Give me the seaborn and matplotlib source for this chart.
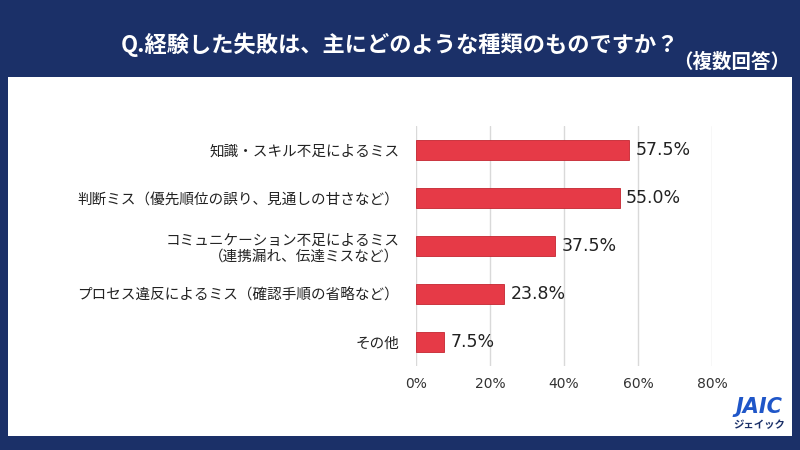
import matplotlib
matplotlib.use("Agg")
import matplotlib.pyplot as plt
import seaborn as sns
import pandas as pd
from matplotlib.patches import Rectangle

# Données
categories = [
    "知識・スキル不足によるミス",
    "判断ミス（優先順位の誤り、見通しの甘さなど）",
    "コミュニケーション不足によるミス\n（連携漏れ、伝達ミスなど）",
    "プロセス違反によるミス（確認手順の省略など）",
    "その他",
]
values = [57.5, 55.0, 37.5, 23.8, 7.5]
x_ticks = [0, 20, 40, 60, 80]
x_tick_labels = ["0%", "20%", "40%", "60%", "80%"]

title = "Q.経験した失敗は、主にどのような種類のものですか？"
subtitle = "（複数回答）"

navy = "#1b3068"
red = "#e63a47"

sns.set_theme(style="white")
plt.rcParams["font.family"] = ["Noto Sans CJK JP", "DejaVu Sans"]

df = pd.DataFrame({"cat": categories, "val": values})

fig = plt.figure(figsize=(8, 4.5), dpi=100)
fig.patch.set_facecolor(navy)

# Panneau blanc
fig.patches.append(Rectangle((8 / 800, 1 - 436 / 450), 784 / 800, 359 / 450,
                             transform=fig.transFigure, facecolor="white",
                             edgecolor="none", zorder=-1))

ax = fig.add_axes([416 / 800, 1 - 366 / 450, 296 / 800, 240 / 450])
ax.set_zorder(2)
ax.set_facecolor("none")
sns.barplot(data=df, x="val", y="cat", ax=ax, color=red, saturation=1,
            width=0.42, edgecolor="#c42530", linewidth=0.6, zorder=3)

ax.set_xlim(0, 80)
ax.set_ylim(4.5, -0.5)
ax.set_xticks(x_ticks)
ax.set_xticklabels(x_tick_labels, fontsize=10, color="#333333",
                   family="DejaVu Sans")
ax.tick_params(axis="x", length=0, pad=8)
ax.tick_params(axis="y", length=0, pad=12)
for lab in ax.get_yticklabels():
    lab.set_fontsize(10.5)
    lab.set_color("#222222")
    lab.set_ha("right")
ax.set_xlabel("")
ax.set_ylabel("")
ax.grid(axis="x", color="#d9d9d9", linewidth=1, zorder=0)
for s in ax.spines.values():
    s.set_visible(False)

# Étiquettes de valeurs
for i, v in enumerate(values):
    ax.text(v + 1.8, i, f"{v:.1f}%", va="center", ha="left", fontsize=12.5,
            color="#222222", family="DejaVu Sans")

# Titre
fig.text(0.5, 1 - 45 / 450, title, ha="center", va="center", color="white",
         fontsize=16, fontweight="bold")
fig.text(790 / 800, 1 - 62 / 450, subtitle, ha="right", va="center",
         color="white", fontsize=14, fontweight="bold")

# Logo
fig.text(759 / 800, 1 - 407 / 450, "JAIC", ha="center", va="center",
         color="#1f56c8", fontsize=15, family="DejaVu Sans",
         fontweight="bold", style="italic")
fig.text(759 / 800, 1 - 425 / 450, "ジェイック", ha="center", va="center",
         color=navy, fontsize=7.5, fontweight="bold")

plt.savefig("out.png", dpi=100, facecolor=navy)
